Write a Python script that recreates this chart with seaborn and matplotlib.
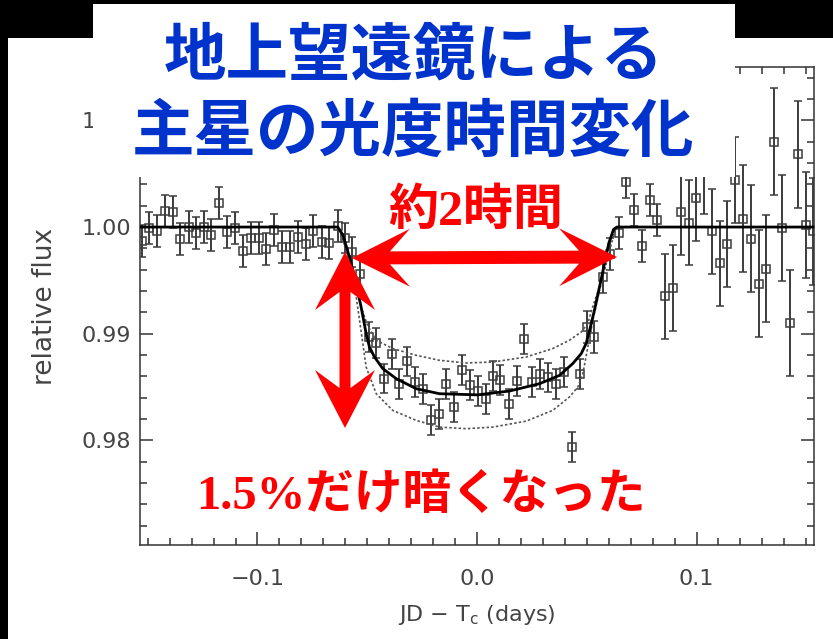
import matplotlib
matplotlib.use("Agg")
import matplotlib.pyplot as plt
from matplotlib.patches import Rectangle, Polygon
from matplotlib.ticker import MultipleLocator, FuncFormatter
import numpy as np
import seaborn as sns

W, H = 833, 639

# observed light curve: JD - Tc (days), relative flux, 1-sigma error
t_obs = [
    -0.1525, -0.1492, -0.1457, -0.1422, -0.1386, -0.1351, -0.1314, -0.1279, -0.1245, -0.1210,
    -0.1173, -0.1138, -0.1102, -0.1065, -0.1031, -0.0995, -0.0960, -0.0924, -0.0887, -0.0851,
    -0.0816, -0.0781, -0.0745, -0.0708, -0.0672, -0.0634,
    -0.0601, -0.0569, -0.0532, -0.0494, -0.0459, -0.0425, -0.0388, -0.0354, -0.0319, -0.0282,
    -0.0247, -0.0210, -0.0174, -0.0140, -0.0107, -0.0068, -0.0034, 0.0004, 0.0039, 0.0072,
    0.0107, 0.0145, 0.0181, 0.0216, 0.0251, 0.0285, 0.0323, 0.0358, 0.0395, 0.0432,
    0.0467, 0.0500, 0.0535, 0.0573, 0.0608, 0.0645,
    0.0679, 0.0714, 0.0750, 0.0786, 0.0821, 0.0857, 0.0892, 0.0927, 0.0964, 0.0999,
    0.1033, 0.1070, 0.1105, 0.1140, 0.1176, 0.1211, 0.1249, 0.1284, 0.1318, 0.1352,
    0.1390, 0.1427, 0.1462, 0.1497, 0.1530,
]
f_obs = [
    0.9987, 0.9999, 0.9996, 1.0015, 1.0014, 0.9989, 1.0000, 0.9994, 1.0000, 0.9993,
    1.0023, 0.9995, 0.9999, 0.9978, 0.9990, 0.9990, 0.9979, 0.9997, 0.9981, 0.9981,
    0.9991, 0.9984, 0.9996, 0.9986, 0.9985, 1.0001,
    0.9990, 0.9977, 0.9956, 0.9897, 0.9891, 0.9858, 0.9881, 0.9853, 0.9874, 0.9855,
    0.9848, 0.9819, 0.9825, 0.9853, 0.9831, 0.9866, 0.9852, 0.9846, 0.9839, 0.9860,
    0.9857, 0.9834, 0.9856, 0.9895, 0.9855, 0.9862, 0.9859, 0.9853, 0.9864, 0.9794,
    0.9862, 0.9906, 0.9897, 0.9953, 0.9975, 0.9994,
    1.0042, 1.0016, 0.9982, 1.0025, 1.0007, 0.9935, 0.9943, 1.0014, 1.0004, 1.0027,
    1.0052, 0.9996, 0.9966, 0.9984, 1.0044, 1.0008, 0.9989, 0.9947, 0.9961, 1.0080,
    0.9999, 0.9910, 1.0068, 1.0002, 0.9996,
]
f_err = [
    0.0015, 0.0015, 0.0015, 0.0015, 0.0015, 0.0015, 0.0015, 0.0015, 0.0015, 0.0015,
    0.0015, 0.0015, 0.0015, 0.0015, 0.0015, 0.0015, 0.0015, 0.0015, 0.0015, 0.0015,
    0.0015, 0.0015, 0.0015, 0.0015, 0.0015, 0.0015,
    0.0014, 0.0014, 0.0014, 0.0014, 0.0014, 0.0014, 0.0014, 0.0014, 0.0014, 0.0014,
    0.0014, 0.0014, 0.0014, 0.0014, 0.0014, 0.0014, 0.0014, 0.0014, 0.0014, 0.0014,
    0.0014, 0.0014, 0.0014, 0.0014, 0.0014, 0.0014, 0.0014, 0.0014, 0.0014, 0.0014,
    0.0014, 0.0015, 0.0015, 0.0015, 0.0015, 0.0015,
    0.0015, 0.0015, 0.0015, 0.0015, 0.0015, 0.0040, 0.0040, 0.0040, 0.0040, 0.0040,
    0.0040, 0.0040, 0.0040, 0.0040, 0.0040, 0.0050, 0.0050, 0.0050, 0.0050, 0.0050,
    0.0050, 0.0050, 0.0050, 0.0050, 0.0050,
]

# best-fit model (solid) and the two bracketing models (dotted)
t_model = [-0.1535, -0.0634, -0.0611, -0.0581, -0.0558, -0.0528, -0.0505, -0.0490, -0.0467,
           -0.0429, -0.0368, -0.0277, -0.0171, 0.0002, 0.0148, 0.0285, 0.0376, 0.0436, 0.0475,
           0.0497, 0.0513, 0.0535, 0.0558, 0.0581, 0.0600, 0.0622, 0.0637, 0.1535]
f_model = [1.0, 1.0, 0.99925, 0.99721, 0.99533, 0.99252, 0.99002, 0.98876, 0.98782,
           0.98673, 0.98579, 0.98485, 0.98438, 0.98427, 0.98463, 0.98532, 0.98610, 0.98720, 0.98814,
           0.98908, 0.99033, 0.99221, 0.99439, 0.99659, 0.99847, 0.99978, 1.0, 1.0]

t_shallow = [-0.1535, -0.0634, -0.0581, -0.0528, -0.0499, -0.0459, -0.0384, -0.0277, -0.0171,
             -0.0049, 0.0072, 0.0224, 0.0345, 0.0421, 0.0475, 0.0505, 0.0522, 0.0558, 0.0600,
             0.0637, 0.1535]
f_shallow = [1.0, 1.0, 0.99721, 0.99252, 0.99080, 0.98939, 0.98861, 0.98798, 0.98751,
             0.98726, 0.98735, 0.98782, 0.98861, 0.98939, 0.99017, 0.99096, 0.99221, 0.99439, 0.99847,
             1.0, 1.0]

t_deep = [-0.1535, -0.0634, -0.0611, -0.0558, -0.0535, -0.0505, -0.0459, -0.0384, -0.0277,
          -0.0171, -0.0049, 0.0072, 0.0224, 0.0345, 0.0421, 0.0459, 0.0482, 0.0505, 0.0528,
          0.0558, 0.0589, 0.0619, 0.0637, 0.1535]
f_deep = [1.0, 1.0, 0.9990, 0.99455, 0.99127, 0.98688, 0.98438, 0.98282, 0.98188,
          0.98125, 0.98110, 0.98125, 0.98181, 0.98282, 0.98407, 0.98500, 0.98626, 0.98876, 0.99127,
          0.99408, 0.99659, 0.99897, 1.0, 1.0]

title_lines = ["地上望遠鏡による", "主星の光度時間変化"]
label_duration = "約2時間"
label_depth = "1.5%だけ暗くなった"


def fx(x):
    return x / W


def fy(y):
    return 1 - y / H


def double_arrow(fig, a, b, head_len, head_half, notch, shaft):
    """Red double-headed arrow with swept-back heads, in image pixels."""
    a = np.array(a, float)
    b = np.array(b, float)
    d = (b - a) / np.linalg.norm(b - a)
    n = np.array([-d[1], d[0]])
    pts = [
        a,
        a + head_len * d + head_half * n,
        a + notch * d + shaft * n,
        b - notch * d + shaft * n,
        b - head_len * d + head_half * n,
        b,
        b - head_len * d - head_half * n,
        b - notch * d - shaft * n,
        a + notch * d - shaft * n,
        a + head_len * d - head_half * n,
    ]
    pts = [(fx(p[0]), fy(p[1])) for p in pts]
    fig.add_artist(Polygon(pts, closed=True, transform=fig.transFigure,
                           facecolor="#ff0000", edgecolor="none", zorder=7))


def fmt_tick(decimals):
    return FuncFormatter(lambda v, pos: f"{v:.{decimals}f}".replace("-", "\u2212"))


sns.set_theme(style="ticks")
plt.rcParams["font.family"] = ["DejaVu Sans"]

fig = plt.figure(figsize=(W / 100, H / 100), dpi=100, facecolor="black")

# white page behind the plot
fig.add_artist(Rectangle((fx(8), 0), fx(W - 8), 1 - 38 / H, transform=fig.transFigure,
                         facecolor="white", edgecolor="none", zorder=-1))

ax = fig.add_axes([fx(140), fy(545), fx(674), 478 / H])
ax.set_facecolor("white")

grey = "#3c3c3c"
ax.errorbar(t_obs, f_obs, yerr=f_err, fmt="s", ms=5.2, mfc="none", mec=grey, mew=1.1,
            ecolor=grey, elinewidth=1.4, capsize=3, capthick=1.3, zorder=3)

sns.lineplot(x=t_shallow, y=f_shallow, ax=ax, color="#555555", lw=1.2,
             linestyle=(0, (1.5, 1.3)), sort=False, estimator=None, zorder=4)
sns.lineplot(x=t_deep, y=f_deep, ax=ax, color="#555555", lw=1.2,
             linestyle=(0, (1.5, 1.3)), sort=False, estimator=None, zorder=4)
sns.lineplot(x=t_model, y=f_model, ax=ax, color="black", lw=2.0,
             sort=False, estimator=None, zorder=5)

ax.set_xlim(-0.1535, 0.1535)
ax.set_ylim(0.9702, 1.015)
ax.xaxis.set_major_locator(MultipleLocator(0.1))
ax.xaxis.set_minor_locator(MultipleLocator(0.01))
ax.yaxis.set_major_locator(MultipleLocator(0.01))
ax.yaxis.set_minor_locator(MultipleLocator(0.002))
ax.xaxis.set_major_formatter(fmt_tick(1))
ax.yaxis.set_major_formatter(fmt_tick(2))
ax.tick_params(which="both", direction="in", top=True, right=True, color="#333333",
               width=1.1, labelcolor="#444444", labelsize=16)
ax.tick_params(which="major", length=9.5)
ax.tick_params(which="minor", length=5)
ax.tick_params(axis="x", pad=17)
ax.tick_params(axis="y", pad=6.5)
for sp in ax.spines.values():
    sp.set_color("#333333")
    sp.set_linewidth(1.1)

ax.set_xlabel(r"JD $-$ T$_\mathrm{c}$ (days)", fontsize=16, color="#444444")
ax.set_ylabel("relative flux", fontsize=19, color="#444444")
ax.xaxis.label.set_va("center")
ax.yaxis.label.set_va("center")
ax.xaxis.set_label_coords(0.5, (545 - 615) / 478)
ax.yaxis.set_label_coords((45 - 140) / 674, 0.5)

# white title panel that hides the top of the plot
fig.add_artist(Rectangle((fx(93), fy(177)), fx(642), 173 / H, transform=fig.transFigure,
                         facecolor="white", edgecolor="none", zorder=5))
fig.text(fx(414), fy(56), title_lines[0], ha="center", va="center", fontsize=45,
         color="#0033cc", fontweight="bold", family=["Noto Sans CJK JP"], zorder=6)
fig.text(fx(413), fy(132), title_lines[1], ha="center", va="center", fontsize=45,
         color="#0033cc", fontweight="bold", family=["Noto Sans CJK JP"], zorder=6)

# red annotations
fig.text(fx(476), fy(213), label_duration, ha="center", va="center", fontsize=36,
         color="#ff0000", fontweight="bold",
         family=["Liberation Serif", "Noto Sans CJK JP"], zorder=7)
fig.text(fx(421), fy(497), label_depth, ha="center", va="center", fontsize=35,
         color="#ff0000", fontweight="bold",
         family=["Liberation Serif", "Noto Sans CJK JP"], zorder=7)
double_arrow(fig, (352, 258), (617, 257), head_len=58, head_half=29, notch=38, shaft=6.5)
double_arrow(fig, (345, 252), (345, 428), head_len=58, head_half=30, notch=40, shaft=5.5)

fig.savefig("out.png", dpi=100, facecolor="black")
